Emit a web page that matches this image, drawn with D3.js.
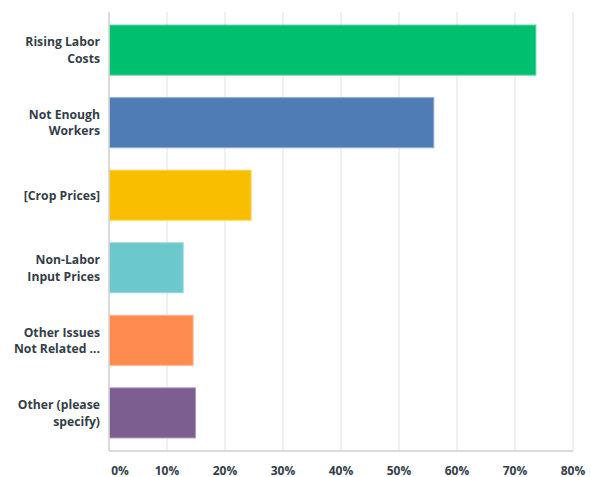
<!DOCTYPE html>
<html>
<head>
<meta charset="utf-8">
<script src="https://cdn.jsdelivr.net/npm/d3@7/dist/d3.min.js"></script>
<style>
  html, body { margin: 0; padding: 0; background: #fff; }
  svg text { font-family: "Open Sans", sans-serif; font-weight: 700; fill: #333e48; }
</style>
</head>
<body>
<svg id="chart" width="591" height="477"></svg>
<script>
// Survey answer choices (two-line labels) and share of respondents (%)
const categories = [
  ["Rising Labor", "Costs"],
  ["Not Enough", "Workers"],
  ["[Crop Prices]"],
  ["Non-Labor", "Input Prices"],
  ["Other Issues", "Not Related ..."],
  ["Other (please", "specify)"]
];
const values = [73.6, 56.0, 24.5, 12.8, 14.5, 14.9];
const barColors = ["#00bf6f", "#507cb6", "#f9be00", "#6bc8cd", "#ff8b4f", "#7d5e90"];
const tickValues = [0, 10, 20, 30, 40, 50, 60, 70, 80];
const tickLabels = ["0%", "10%", "20%", "30%", "40%", "50%", "60%", "70%", "80%"];

const svg = d3.select("#chart");
const margin = { top: 12, right: 18, bottom: 26, left: 109 };
const width = 591 - margin.left - margin.right;
const height = 477 - margin.top - margin.bottom;

const g = svg.append("g").attr("transform", `translate(${margin.left},${margin.top})`);

const x = d3.scaleLinear().domain([0, 80]).range([0, 464]);
const y = d3.scaleBand()
  .domain(d3.range(categories.length))
  .range([0, height])
  .paddingInner(0.31)
  .paddingOuter(0.18);

// vertical gridlines
g.selectAll("line.grid")
  .data(tickValues.slice(1))
  .join("line")
  .attr("class", "grid")
  .attr("x1", d => x(d)).attr("x2", d => x(d))
  .attr("y1", 0).attr("y2", height)
  .attr("stroke", "#ebebeb")
  .attr("stroke-width", 1.5);

// bars with a lighter outline
const lighten = c => d3.interpolateRgb(c, "#ffffff")(0.35);
g.selectAll("rect.bar")
  .data(values)
  .join("rect")
  .attr("class", "bar")
  .attr("x", 0.5)
  .attr("y", (d, i) => y(i))
  .attr("width", d => x(d) - 0.5)
  .attr("height", y.bandwidth())
  .attr("fill", (d, i) => barColors[i])
  .attr("stroke", (d, i) => lighten(barColors[i]))
  .attr("stroke-width", 1);

// axis lines
g.append("line")
  .attr("x1", 0).attr("x2", 0).attr("y1", 0).attr("y2", height)
  .attr("stroke", "#cfcfcf").attr("stroke-width", 1.5);
g.append("line")
  .attr("x1", 0).attr("x2", x(80)).attr("y1", height).attr("y2", height)
  .attr("stroke", "#cfcfcf").attr("stroke-width", 1.5);

// x tick labels
g.selectAll("text.tick")
  .data(tickValues)
  .join("text")
  .attr("class", "tick")
  .attr("x", (d, i) => i === 0 ? x(d) + 11 : x(d))
  .attr("y", height + 23.5)
  .attr("text-anchor", "middle")
  .attr("font-size", 12)
  .text((d, i) => tickLabels[i]);

// category labels, one text element per line
const lineH = 16.5;
categories.forEach((lines, i) => {
  const cy = y(i) + y.bandwidth() / 2;
  lines.forEach((ln, k) => {
    g.append("text")
      .attr("class", "cat")
      .attr("text-anchor", "end")
      .attr("font-size", 12.2)
      .attr("x", -9)
      .attr("y", cy + (k - (lines.length - 1) / 2) * lineH + 4.5)
      .text(ln);
  });
});
</script>
</body>
</html>
